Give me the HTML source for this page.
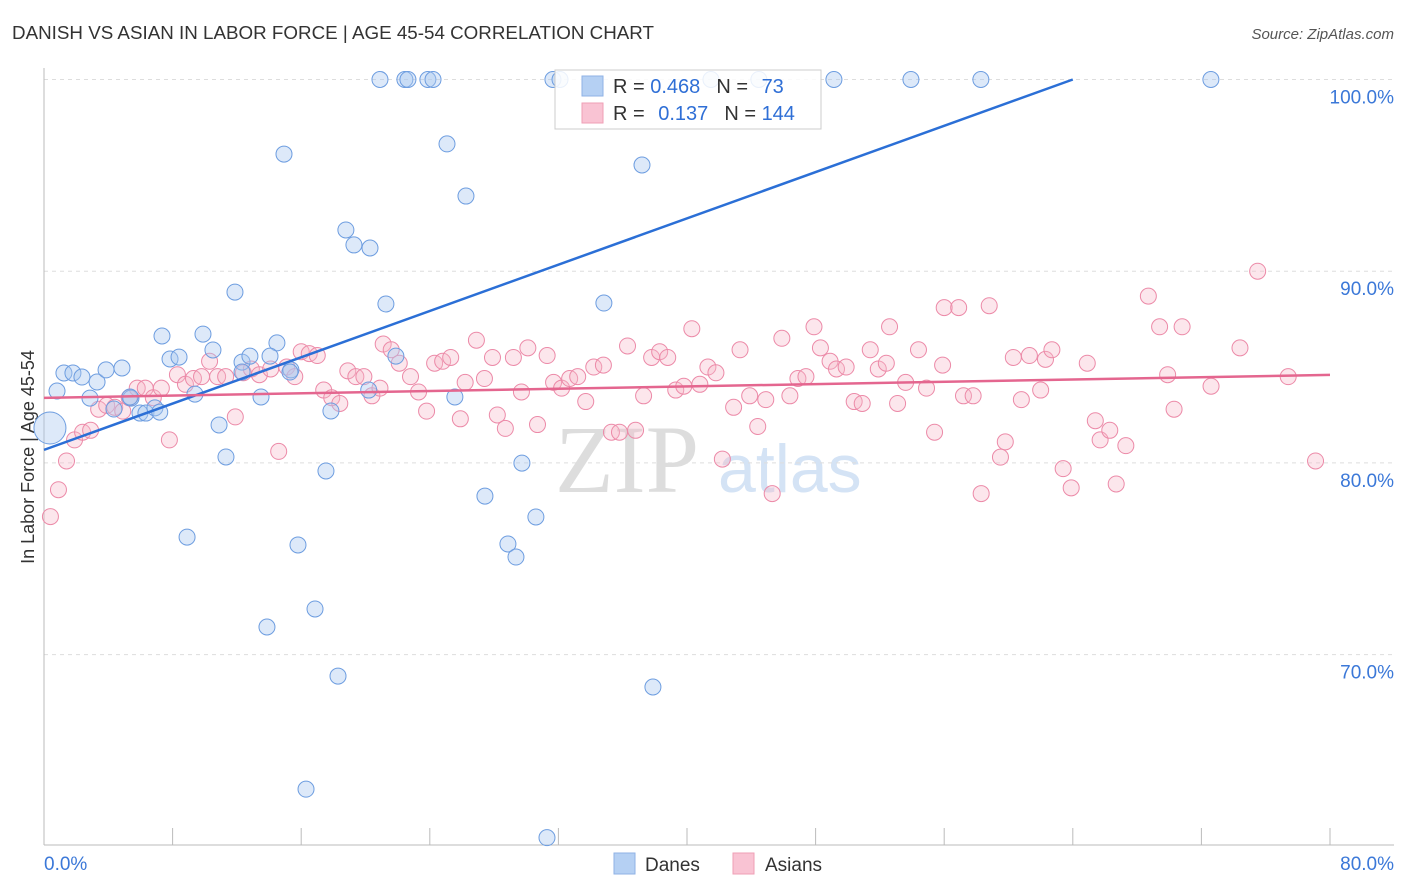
<!DOCTYPE html>
<html><head><meta charset="utf-8"><style>
body{margin:0;background:#fff;font-family:"Liberation Sans",sans-serif;}
#wrap{position:relative;width:1406px;height:892px;overflow:hidden;}
svg{position:absolute;left:0;top:0;}
</style></head><body>
<div id="wrap">
<svg id="chart" width="1406" height="892">
<text x="12" y="39" font-size="18" fill="#333" textLength="642" lengthAdjust="spacingAndGlyphs">DANISH VS ASIAN IN LABOR FORCE | AGE 45-54 CORRELATION CHART</text>
<text x="1394" y="39" font-size="15" fill="#555" font-style="italic" text-anchor="end">Source: ZipAtlas.com</text>
<text x="34" y="457" font-size="18" fill="#333" text-anchor="middle" transform="rotate(-90 34 457)">In Labor Force | Age 45-54</text>
<text x="555" y="492" font-size="96" fill="#ddd" font-family="Liberation Serif,serif">ZIP</text>
<text x="718" y="492" font-size="68" fill="#d4e3f5">atlas</text>
<g id="grid"></g><g id="pts"></g><g id="lines"></g>
<g>
<rect x="555" y="70" width="266" height="59" fill="#fff" fill-opacity="0.85" stroke="#ccc"/>
<rect x="582" y="76" width="21" height="20" fill="#b5d0f3" stroke="#8fb2e6"/>
<rect x="582" y="103" width="21" height="20" fill="#f9c3d3" stroke="#ef9fb6"/>
<text x="613" y="93" font-size="20" fill="#333">R = <tspan fill="#2f6fd6">0.468</tspan><tspan dx="16">N = </tspan><tspan dx="8" fill="#2f6fd6">73</tspan></text>
<text x="613" y="120" font-size="20" fill="#333">R = <tspan dx="8" fill="#2f6fd6">0.137</tspan><tspan dx="16">N = </tspan><tspan fill="#2f6fd6">144</tspan></text>
</g>
<g>
<rect x="614" y="853" width="21" height="21" fill="#b5d0f3" stroke="#8fb2e6"/>
<text x="645" y="871" font-size="19" fill="#333">Danes</text>
<rect x="733" y="853" width="21" height="21" fill="#f9c3d3" stroke="#ef9fb6"/>
<text x="765" y="871" font-size="19" fill="#333">Asians</text>
</g>
</svg></div>
<script>
const xTicks=[0,8,16,24,32,40,48,56,64,72,80];
const yTicks=[70,80,90,100];
const yTickLabels=["70.0%","80.0%","90.0%","100.0%"];
const xEndLabels=["0.0%","80.0%"];
const danesX=[0.37,0.81,1.24,1.80,2.36,2.86,3.30,3.86,4.35,4.85,5.41,5.97,6.34,6.90,7.34,7.84,8.40,8.90,9.39,9.89,10.51,10.89,11.32,11.88,12.32,12.81,13.50,13.87,14.49,14.93,15.36,15.80,16.30,16.86,17.54,17.85,18.29,18.78,19.28,20.28,20.90,21.27,21.89,22.45,22.64,23.88,24.20,25.07,25.56,26.25,27.43,28.86,29.36,29.73,30.60,31.29,31.66,32.10,34.83,37.20,37.88,41.49,44.47,49.14,53.93,58.28,72.59,20.2,7.2,5.35,12.32,14.06,15.3];
const danesY=[81.82,83.75,84.69,84.69,84.48,83.38,84.22,84.85,82.81,84.95,83.38,82.60,82.60,82.87,86.62,85.42,85.52,76.13,83.59,86.72,85.89,81.98,80.31,88.91,85.26,85.57,83.44,71.44,86.26,96.11,84.85,75.72,62.98,72.38,79.58,82.71,68.88,92.15,91.37,91.21,100,88.29,85.57,100,100,100,100,96.64,83.44,93.92,78.27,75.77,75.09,79.99,77.18,60.45,100,100,88.34,95.54,68.31,100,100,100,100,100,100,83.80,82.65,83.44,84.74,85.57,84.74];
const asiansX=[0.4,0.9,1.4,1.9,2.4,2.9,3.4,3.9,4.4,4.9,5.3,5.8,6.3,6.8,7.3,7.8,8.3,8.8,9.3,9.8,10.3,10.8,11.3,11.9,12.4,12.9,13.4,14.1,14.6,15.1,15.6,16.0,16.5,17.0,17.4,17.9,18.4,18.9,19.4,19.9,20.4,20.9,21.1,21.6,22.1,22.8,23.3,23.8,24.3,24.8,25.3,25.9,26.2,26.9,27.4,27.9,28.2,28.7,29.2,29.7,30.1,30.7,31.3,31.7,32.2,32.7,33.2,33.7,34.2,34.8,35.3,35.8,36.3,36.8,37.3,37.8,38.3,38.8,39.3,39.8,40.3,40.8,41.3,41.8,42.2,42.9,43.3,43.9,44.4,44.9,45.3,45.9,46.4,46.9,47.4,47.9,48.3,48.9,49.3,49.9,50.4,50.9,51.4,51.9,52.4,52.6,53.1,53.6,54.4,54.9,55.4,55.9,56.0,56.9,57.2,57.8,58.3,58.8,59.5,59.8,60.3,60.8,61.3,62.0,62.3,62.7,63.4,63.9,64.9,65.4,65.7,66.3,66.7,67.3,68.7,69.4,69.9,70.3,70.8,72.6,74.4,75.5,77.4,79.1];
const asiansY=[77.2,78.6,80.1,81.2,81.6,81.7,82.8,83.0,82.9,82.7,83.4,83.9,83.9,83.4,83.9,81.2,84.6,84.1,84.4,84.5,85.3,84.5,84.5,82.4,84.7,84.9,84.6,84.9,80.6,85.0,84.5,85.8,85.7,85.6,83.8,83.4,83.1,84.8,84.5,84.5,83.5,83.9,86.2,85.9,85.2,84.5,83.7,82.7,85.2,85.3,85.5,82.3,84.2,86.4,84.4,85.5,82.5,81.8,85.5,83.7,86.0,82.0,85.6,84.2,83.9,84.4,84.5,83.2,85.0,85.1,81.6,81.6,86.1,81.7,83.5,85.5,85.8,85.5,83.8,84.0,87.0,84.1,85.0,84.7,80.2,82.9,85.9,83.5,81.9,83.3,78.4,86.5,83.5,84.4,84.5,87.1,86.0,85.3,84.9,85.0,83.2,83.1,85.9,84.9,85.2,87.1,83.1,84.2,85.9,83.9,81.6,85.1,88.1,88.1,83.5,83.5,78.4,88.2,80.3,81.1,85.5,83.3,85.6,83.8,85.4,85.9,79.7,78.7,85.2,82.2,81.2,81.7,78.9,80.9,88.7,87.1,84.6,82.8,87.1,84.0,86.0,90.0,84.5,80.1];
const danesTrend=[80.68,104.83];
const asiansTrend=[83.39,84.59];
const NS='http://www.w3.org/2000/svg';
const xs=v=>44+v*(1286/80);
const ys=v=>79.5+(100-v)*19.17;
function mk(t,a,p){const e=document.createElementNS(NS,t);for(const k in a)e.setAttribute(k,a[k]);p.appendChild(e);return e;}
const grid=document.getElementById('grid');
yTicks.forEach((t,i)=>{
 const l=mk('line',{x1:44,x2:1394,y1:ys(t),y2:ys(t),stroke:'#ddd','stroke-dasharray':'4,4'},grid);
 
 
 const tx=mk('text',{x:1394,y:ys(t)+24,'font-size':19,fill:'#3b78d8','text-anchor':'end'},grid);
 tx.textContent=yTickLabels[i];
 
 
});
mk('line',{x1:44,x2:44,y1:68,y2:845,stroke:'#bbb'},grid);
mk('line',{x1:44,x2:1394,y1:845,y2:845,stroke:'#bbb'},grid);
xTicks.forEach(t=>{
 const l=mk('line',{x1:xs(t),x2:xs(t),y1:828,y2:845,stroke:'#bbb'},grid);
 
 
});
[[0,'start'],[80,'end']].forEach((p,i)=>{
 const tx=mk('text',{x:i?1394:44,y:870,'font-size':19,fill:'#3b78d8','text-anchor':p[1]},grid);
 tx.textContent=xEndLabels[i];
 
 
});
const pts=document.getElementById('pts');
asiansX.forEach((x,i)=>{
 const c=mk('circle',{cx:xs(x),cy:ys(asiansY[i]),r:8,fill:'#f7b6c9','fill-opacity':0.35,stroke:'#ec8aa8','stroke-width':1},pts);
 
 
});
danesX.forEach((x,i)=>{
 const c=mk('circle',{cx:xs(x),cy:ys(danesY[i]),r:i===0?16:8,fill:'#a9c8f0','fill-opacity':0.4,stroke:'#6d9de0','stroke-width':1},pts);
 
 
});
const lines=document.getElementById('lines');
const dl=mk('line',{x1:xs(0),y1:ys(danesTrend[0]),x2:xs(80),y2:ys(danesTrend[1]),stroke:'#2b6fd6','stroke-width':2.5},lines);


const clipY=ys(100);
const tEnd=(100-danesTrend[0])/((danesTrend[1]-danesTrend[0])/80);
dl.setAttribute('x2',xs(tEnd));dl.setAttribute('y2',clipY);
const al=mk('line',{x1:xs(0),y1:ys(asiansTrend[0]),x2:xs(80),y2:ys(asiansTrend[1]),stroke:'#e4668f','stroke-width':2.5},lines);


</script>
</body></html>
